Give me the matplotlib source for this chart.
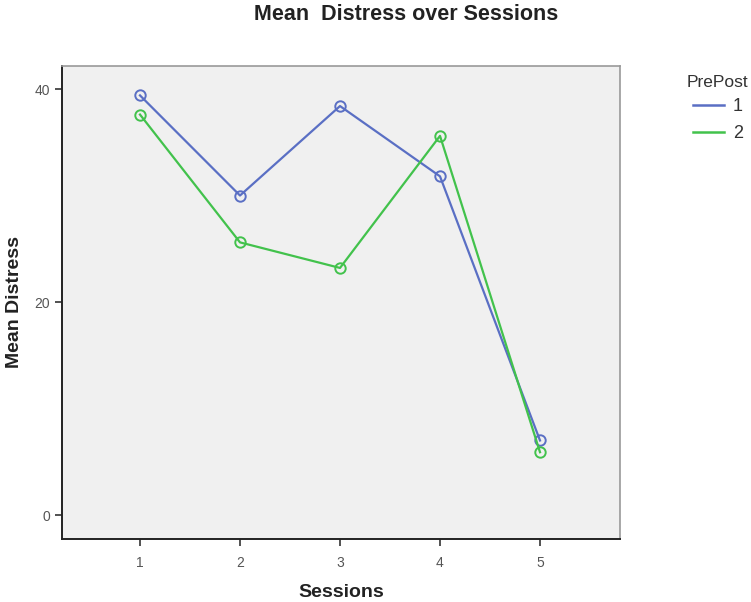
import matplotlib
matplotlib.use("Agg")
import matplotlib.pyplot as plt
from matplotlib.lines import Line2D

sessions = [1, 2, 3, 4, 5]
prepost_1 = [39.4, 30.0, 38.4, 31.8, 7.0]
prepost_2 = [37.6, 25.6, 23.2, 35.6, 5.9]
series_labels = ["1", "2"]
yticks = [0, 20, 40]

plt.rcParams['font.family'] = ['Liberation Sans', 'DejaVu Sans']

fig = plt.figure(figsize=(7.51, 6.02), dpi=100)
ax = fig.add_axes([62/751, 1-539/602, (620-62)/751, (539-66)/602])
ax.set_facecolor('#f0f0f0')

c1 = '#5a6fc4'
c2 = '#42c24c'
ax.plot(sessions, prepost_1, color=c1, lw=1.6, marker='o', ms=7.5, mfc='none', mew=1.4, zorder=3)
ax.plot(sessions, prepost_2, color=c2, lw=1.6, marker='o', ms=7.5, mfc='none', mew=1.4, zorder=3)

ax.set_xlim(0.22, 5.8)
ax.set_ylim(-2.25, 42.16)
ax.set_xticks(sessions)
ax.set_yticks(yticks)
ax.tick_params(axis='both', colors='#333333', labelcolor='#555555', labelsize=10, length=5, width=1.2)
ax.tick_params(axis='x', pad=7)

for s in ['left', 'bottom']:
    ax.spines[s].set_color('#222222')
    ax.spines[s].set_linewidth(1.4)
for s in ['top', 'right']:
    ax.spines[s].set_color('#999999')
    ax.spines[s].set_linewidth(1.2)

ax.set_xlabel('Sessions', fontsize=14, fontweight='bold', color='#222222', labelpad=10)
ax.set_ylabel('Mean Distress', fontsize=14, fontweight='bold', color='#222222', labelpad=8)

fig.text(406/751, 1-14/602, 'Mean  Distress over Sessions', ha='center', va='center',
         fontsize=15.5, fontweight='bold', color='#222222')

handles = [Line2D([], [], color=c1, lw=1.8), Line2D([], [], color=c2, lw=1.8)]
leg = fig.legend(handles, series_labels, title='PrePost', loc='upper left',
                 bbox_to_anchor=(687/751, 1-75/602), frameon=False, fontsize=13,
                 title_fontsize=12.5, handlelength=1.75, handletextpad=0.5,
                 labelspacing=0.55, borderaxespad=0, borderpad=0)
leg._legend_box.sep = 6
for t in leg.get_texts():
    t.set_color('#333333')
leg.get_title().set_color('#333333')

fig.savefig('out.png', dpi=100)
